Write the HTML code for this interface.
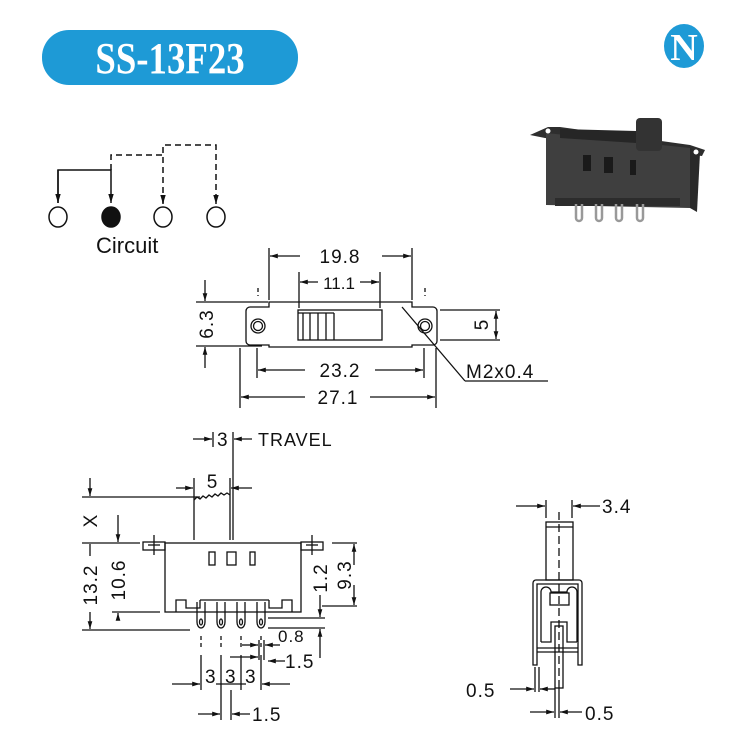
<!DOCTYPE html>
<html><head><style>
html,body{margin:0;padding:0;background:#fff;}
svg{display:block;}
text{font-family:"Liberation Sans",sans-serif;fill:#111;}
</style></head><body>
<svg width="735" height="744" viewBox="0 0 735 744" xmlns="http://www.w3.org/2000/svg">
<defs>
<marker id="a" viewBox="0 0 10 10" refX="10" refY="5" markerWidth="9" markerHeight="6" orient="auto-start-reverse"><path d="M0,2 L10,5 L0,8 z" fill="#111"/></marker>
</defs>
<rect width="735" height="744" fill="#fff"/>
<rect x="42" y="30" width="256" height="55" rx="27" fill="#1e9ad6"/>
<text x="170" y="73" text-anchor="middle" transform="translate(170 0) scale(0.92 1.1) translate(-170 -6.5)" style="font-family:'Liberation Serif',serif;font-weight:bold;font-size:40px;fill:#fff">SS-13F23</text>
<ellipse cx="684" cy="46" rx="20" ry="22" fill="#1e9ad6"/>
<text x="684" y="60" text-anchor="middle" style="font-family:'Liberation Serif',serif;font-weight:bold;font-size:38px;fill:#fff">N</text>

<g stroke="#111" stroke-width="1.5" fill="none">
<polyline points="58,203 58,170 111,170 111,203" marker-end="url(#a)"/>
<line x1="58" y1="170" x2="58" y2="203" marker-end="url(#a)"/>
<polyline points="111,170 111,155 163,155" stroke-dasharray="6,4"/>
<polyline points="163,203 163,145 216,145 216,203" stroke-dasharray="6,4"/>
<line x1="163" y1="195" x2="163" y2="204" marker-end="url(#a)"/>
<line x1="216" y1="195" x2="216" y2="204" marker-end="url(#a)"/>
<ellipse cx="58" cy="217" rx="9" ry="10"/>
<ellipse cx="111" cy="217" rx="9" ry="10" fill="#111"/>
<ellipse cx="163" cy="217" rx="9" ry="10"/>
<ellipse cx="216" cy="217" rx="9" ry="10"/>
</g>
<text x="96" y="253" style="font-size:22px">Circuit</text>

<!-- photo -->
<g>
<polygon points="530,135 548,127 560,127 690,145 705,150 702,156 545,138" fill="#2e2e2e"/>
<polygon points="546,133 690,148 690,208 546,205" fill="#3f3f3f"/>
<polygon points="690,148 700,153 697,212 690,208" fill="#2a2a2a"/>
<polygon points="560,129 636,131 636,143 560,138" fill="#262626"/>
<rect x="636" y="118" width="26" height="33" rx="4" fill="#333"/>
<rect x="583" y="155" width="8" height="16" fill="#1a1a1a"/>
<rect x="604" y="157" width="9" height="16" fill="#1a1a1a"/>
<rect x="630" y="160" width="6" height="15" fill="#1a1a1a"/>
<rect x="555" y="198" width="125" height="8" fill="#2c2c2c"/>
<g stroke="#999" stroke-width="2.5" fill="none">
<path d="M576,204 v14 a3,3 0 0 0 6,0 v-14"/>
<path d="M596,204 v14 a3,3 0 0 0 6,0 v-14"/>
<path d="M616,204 v14 a3,3 0 0 0 6,0 v-14"/>
<path d="M637,204 v14 a3,3 0 0 0 6,0 v-14"/>
</g>
<circle cx="548" cy="131" r="2.5" fill="#fff"/>
<circle cx="696" cy="152" r="2.5" fill="#fff"/>
</g>

<g stroke="#111" stroke-width="1.3" fill="none">
<path d="M250,307 H269 V302 H412 V307 H433 a4,4 0 0 1 4,4 V341 a4,4 0 0 1 -4,4 H412 V347 H269 V345 H250 a4,4 0 0 1 -4,-4 V311 a4,4 0 0 1 4,-4 z"/>
<circle cx="258" cy="326" r="7"/><circle cx="258" cy="326" r="4.5"/>
<circle cx="425" cy="326" r="7"/><circle cx="425" cy="326" r="4.5"/>
<rect x="298" y="310" width="84" height="30"/>
<line x1="303" y1="313" x2="303" y2="340"/><line x1="310" y1="313" x2="310" y2="340"/><line x1="318" y1="313" x2="318" y2="340"/><line x1="326" y1="313" x2="326" y2="340"/><line x1="334" y1="313" x2="334" y2="340"/>
<line x1="298" y1="313" x2="334" y2="313"/>
<line x1="269" y1="248" x2="269" y2="300"/><line x1="412" y1="248" x2="412" y2="300"/>
<line x1="299" y1="272" x2="299" y2="308"/><line x1="380" y1="272" x2="380" y2="308"/>
<line x1="196" y1="302" x2="268" y2="302"/><line x1="196" y1="346" x2="262" y2="346"/>
<line x1="440" y1="310" x2="500" y2="310"/><line x1="440" y1="340" x2="500" y2="340"/>
<line x1="258" y1="288" x2="258" y2="296" stroke-dasharray="4,3"/>
<line x1="425" y1="288" x2="425" y2="296" stroke-dasharray="4,3"/>
<line x1="257" y1="348" x2="257" y2="378"/><line x1="424" y1="348" x2="424" y2="378"/>
<line x1="240" y1="348" x2="240" y2="408"/><line x1="436" y1="348" x2="436" y2="408"/>
<line x1="402" y1="307" x2="465" y2="381"/>
<line x1="465" y1="381" x2="548" y2="381"/>
<line x1="300" y1="256" x2="270" y2="256" marker-end="url(#a)"/><line x1="382" y1="256" x2="411" y2="256" marker-end="url(#a)"/>
<line x1="318" y1="282" x2="300" y2="282" marker-end="url(#a)"/><line x1="360" y1="282" x2="379" y2="282" marker-end="url(#a)"/>
<line x1="205" y1="280" x2="205" y2="301" marker-end="url(#a)"/><line x1="205" y1="368" x2="205" y2="347" marker-end="url(#a)"/>
<line x1="496" y1="325" x2="496" y2="311" marker-end="url(#a)"/><line x1="496" y1="325" x2="496" y2="339" marker-end="url(#a)"/>
<line x1="305" y1="370" x2="258" y2="370" marker-end="url(#a)"/><line x1="375" y1="370" x2="423" y2="370" marker-end="url(#a)"/>
<line x1="305" y1="397" x2="241" y2="397" marker-end="url(#a)"/><line x1="370" y1="397" x2="435" y2="397" marker-end="url(#a)"/>
</g>
<text x="340" y="263" text-anchor="middle" style="font-size:19px;letter-spacing:1px">19.8</text>
<text x="339" y="289" text-anchor="middle" style="font-size:17px">11.1</text>
<text x="213" y="324" text-anchor="middle" transform="rotate(-90 213 324)" style="font-size:19px;letter-spacing:1px">6.3</text>
<text x="488" y="325" text-anchor="middle" transform="rotate(-90 488 325)" style="font-size:19px">5</text>
<text x="340" y="377" text-anchor="middle" style="font-size:19px;letter-spacing:1px">23.2</text>
<text x="338" y="404" text-anchor="middle" style="font-size:19px;letter-spacing:1px">27.1</text>
<text x="466" y="378" style="font-size:19px;letter-spacing:1px">M2x0.4</text>

<g stroke="#111" stroke-width="1.3" fill="none">
<line x1="213" y1="432" x2="213" y2="447"/><line x1="233" y1="432" x2="233" y2="540"/>
<line x1="193" y1="439" x2="212" y2="439" marker-end="url(#a)"/><line x1="252" y1="439" x2="234" y2="439" marker-end="url(#a)"/>
<line x1="194" y1="478" x2="194" y2="540"/><line x1="230" y1="478" x2="230" y2="540"/>
<path d="M194,500 l3,-3 3,2 3,-3 3,2 3,-3 3,2 3,-3 3,2 3,-3 3,2 3,-2 3,2"/>
<line x1="176" y1="488" x2="193" y2="488" marker-end="url(#a)"/><line x1="252" y1="488" x2="231" y2="488" marker-end="url(#a)"/>
<line x1="82" y1="497" x2="200" y2="497"/>
<line x1="90" y1="478" x2="90" y2="496" marker-end="url(#a)"/>
<line x1="118" y1="515" x2="118" y2="542" marker-end="url(#a)"/>
<rect x="165" y="543" width="136" height="69"/>
<rect x="143" y="542" width="22" height="8"/><rect x="301" y="542" width="22" height="8"/>
<line x1="154" y1="535" x2="154" y2="555"/><line x1="148" y1="545" x2="160" y2="545"/>
<line x1="312" y1="535" x2="312" y2="555"/><line x1="306" y1="545" x2="318" y2="545"/>
<rect x="209" y="552" width="6" height="13"/><rect x="227" y="552" width="9" height="13"/><rect x="250" y="552" width="5" height="13"/>
<path d="M176,612 v-12 h10 v8 h14 v-8"/><path d="M269,600 v8 h13 v-8 h10 v12"/>
<line x1="200" y1="600" x2="269" y2="600"/>
<path d="M197,602 v20 a4,6 0 0 0 8,0 v-20"/><path d="M217,602 v20 a4,6 0 0 0 8,0 v-20"/><path d="M237,602 v20 a4,6 0 0 0 8,0 v-20"/><path d="M257,602 v20 a4,6 0 0 0 8,0 v-20"/>
<ellipse cx="201" cy="622" rx="1.5" ry="3"/><ellipse cx="221" cy="622" rx="1.5" ry="3"/><ellipse cx="241" cy="622" rx="1.5" ry="3"/><ellipse cx="261" cy="622" rx="1.5" ry="3"/>
<line x1="82" y1="543" x2="140" y2="543"/><line x1="112" y1="612" x2="160" y2="612"/><line x1="82" y1="630" x2="190" y2="630"/>
<line x1="90" y1="544" x2="90" y2="556"/><line x1="90" y1="612" x2="90" y2="629" marker-end="url(#a)"/>
<line x1="118" y1="620" x2="118" y2="613" marker-end="url(#a)"/>
<line x1="332" y1="543" x2="357" y2="543"/><line x1="322" y1="606" x2="357" y2="606"/>
<line x1="354" y1="565" x2="354" y2="544" marker-end="url(#a)"/><line x1="354" y1="585" x2="354" y2="605" marker-end="url(#a)"/>
<line x1="268" y1="618" x2="325" y2="618"/><line x1="268" y1="628" x2="325" y2="628"/>
<line x1="320" y1="595" x2="320" y2="617" marker-end="url(#a)"/><line x1="320" y1="658" x2="320" y2="629" marker-end="url(#a)"/>
<line x1="201" y1="636" x2="201" y2="650" stroke-dasharray="4,3"/><line x1="221" y1="636" x2="221" y2="650" stroke-dasharray="4,3"/>
<line x1="241" y1="636" x2="241" y2="650" stroke-dasharray="4,3"/><line x1="261" y1="636" x2="261" y2="650" stroke-dasharray="4,3"/>
<line x1="259" y1="640" x2="259" y2="660"/><line x1="264" y1="640" x2="264" y2="660"/>
<line x1="242" y1="645" x2="258" y2="645" marker-end="url(#a)"/><line x1="280" y1="645" x2="265" y2="645" marker-end="url(#a)"/>
<line x1="230" y1="657" x2="258" y2="657" marker-end="url(#a)"/><line x1="285" y1="661" x2="268" y2="661" marker-end="url(#a)"/>
<line x1="201" y1="655" x2="201" y2="690"/><line x1="221" y1="655" x2="221" y2="690"/><line x1="241" y1="655" x2="241" y2="690"/><line x1="261" y1="655" x2="261" y2="690"/>
<line x1="172" y1="684" x2="200" y2="684" marker-end="url(#a)"/><line x1="290" y1="684" x2="262" y2="684" marker-end="url(#a)"/>
<line x1="216" y1="684" x2="246" y2="684"/>
<line x1="221" y1="690" x2="221" y2="720"/><line x1="231" y1="690" x2="231" y2="720"/>
<line x1="198" y1="714" x2="220" y2="714" marker-end="url(#a)"/><line x1="250" y1="714" x2="232" y2="714" marker-end="url(#a)"/>
</g>
<text x="217" y="446" style="font-size:19px">3</text>
<text x="258" y="446" style="font-size:18px;letter-spacing:1px">TRAVEL</text>
<text x="212" y="488" text-anchor="middle" style="font-size:19px">5</text>
<text x="97" y="521" text-anchor="middle" transform="rotate(-90 97 521)" style="font-size:19px">X</text>
<text x="97" y="585" text-anchor="middle" transform="rotate(-90 97 585)" style="font-size:19px;letter-spacing:1px">13.2</text>
<text x="125" y="580" text-anchor="middle" transform="rotate(-90 125 580)" style="font-size:19px;letter-spacing:1px">10.6</text>
<text x="327" y="578" text-anchor="middle" transform="rotate(-90 327 578)" style="font-size:19px;letter-spacing:1px">1.2</text>
<text x="351" y="575" text-anchor="middle" transform="rotate(-90 351 575)" style="font-size:19px;letter-spacing:1px">9.3</text>
<text x="278" y="642" style="font-size:17px;letter-spacing:1px">0.8</text>
<text x="285" y="668" style="font-size:19px;letter-spacing:1px">1.5</text>
<text x="205" y="683" style="font-size:19px">3</text>
<text x="225" y="683" style="font-size:19px">3</text>
<text x="245" y="683" style="font-size:19px">3</text>
<text x="252" y="721" style="font-size:19px;letter-spacing:1px">1.5</text>

<g stroke="#111" stroke-width="1.3" fill="none">
<line x1="546" y1="500" x2="546" y2="518"/><line x1="572" y1="500" x2="572" y2="518"/>
<line x1="516" y1="506" x2="545" y2="506" marker-end="url(#a)"/><line x1="600" y1="506" x2="573" y2="506" marker-end="url(#a)"/>
<rect x="546" y="522" width="27" height="58"/>
<line x1="546" y1="527" x2="573" y2="527"/>
<line x1="559" y1="512" x2="559" y2="690" stroke-dasharray="8,4"/>
<path d="M533,665 V583 a3,3 0 0 1 3,-3 H579 a3,3 0 0 1 3,3 V665 h-4 V584 H537 V665 z"/>
<path d="M541,642 V592 a5,5 0 0 1 10,0 H567 a5,5 0 0 1 10,0 V642"/>
<rect x="550" y="593" width="19" height="12"/>
<path d="M541,642 H551 V622 H567 V642 H577"/>
<line x1="537" y1="648" x2="578" y2="648"/><line x1="537" y1="652" x2="578" y2="652"/>
<rect x="555" y="626" width="8" height="62"/>
<line x1="535" y1="667" x2="535" y2="692"/><line x1="539" y1="667" x2="539" y2="692"/>
<line x1="555" y1="688" x2="555" y2="718"/><line x1="559" y1="688" x2="559" y2="718"/>
<line x1="510" y1="689" x2="534" y2="689" marker-end="url(#a)"/><line x1="555" y1="689" x2="540" y2="689" marker-end="url(#a)"/>
<line x1="530" y1="712" x2="554" y2="712" marker-end="url(#a)"/><line x1="582" y1="712" x2="560" y2="712" marker-end="url(#a)"/>
</g>
<text x="602" y="513" style="font-size:19px;letter-spacing:1px">3.4</text>
<text x="466" y="697" style="font-size:19px;letter-spacing:1px">0.5</text>
<text x="585" y="720" style="font-size:19px;letter-spacing:1px">0.5</text>
</svg>
</body></html>
